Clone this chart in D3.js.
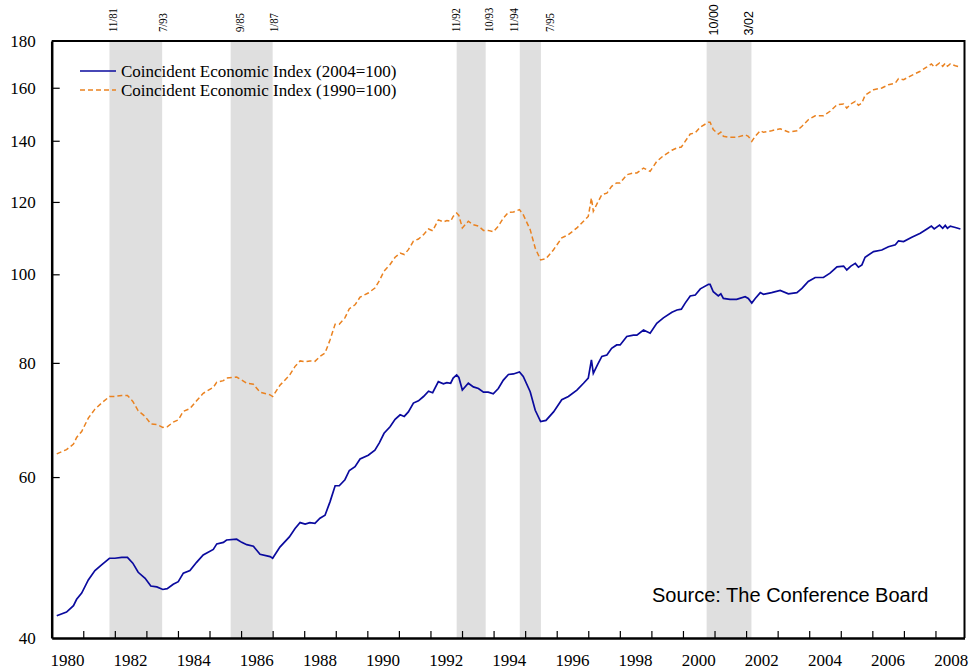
<!DOCTYPE html>
<html>
<head>
<meta charset="utf-8">
<script src="https://cdn.jsdelivr.net/npm/d3@7"></script>
<style>
  body { margin: 0; background: #fff; }
  svg { display: block; }
</style>
</head>
<body>
<div id="chart"></div>
<script>
// decimal years of the sampled points
var dates = [1980.16, 1980.47, 1980.69, 1980.79, 1980.95, 1981.16, 1981.37, 1981.58, 1981.83, 1982.00,
  1982.22, 1982.40, 1982.57, 1982.74, 1982.96, 1983.14, 1983.33, 1983.52, 1983.66, 1983.85,
  1984.01, 1984.17, 1984.38, 1984.59, 1984.80, 1985.12, 1985.23, 1985.44, 1985.54, 1985.86,
  1986.02, 1986.18, 1986.39, 1986.60, 1986.92, 1987.00, 1987.23, 1987.53, 1987.71, 1987.87,
  1988.03, 1988.18, 1988.34, 1988.50, 1988.66, 1988.82, 1988.98, 1989.11, 1989.29, 1989.43,
  1989.61, 1989.77, 1990.03, 1990.24, 1990.38, 1990.53, 1990.72, 1990.88, 1991.04, 1991.17,
  1991.30, 1991.46, 1991.62, 1991.78, 1991.94, 1992.07, 1992.25, 1992.41, 1992.52, 1992.64,
  1992.72, 1992.83, 1992.90, 1993.01, 1993.20, 1993.36, 1993.52, 1993.68, 1993.83, 1993.99,
  1994.15, 1994.31, 1994.47, 1994.63, 1994.82, 1994.94, 1995.16, 1995.32, 1995.49, 1995.66,
  1995.90, 1996.16, 1996.37, 1996.64, 1996.85, 1997.00, 1997.10, 1997.16, 1997.29, 1997.43,
  1997.59, 1997.74, 1997.90, 1998.01, 1998.22, 1998.43, 1998.54, 1998.75, 1998.96, 1999.17,
  1999.38, 1999.65, 1999.81, 1999.95, 2000.07, 2000.23, 2000.39, 2000.55, 2000.81, 2000.86,
  2000.96, 2001.12, 2001.20, 2001.28, 2001.49, 2001.70, 2001.97, 2002.07, 2002.18, 2002.29,
  2002.45, 2002.55, 2002.81, 2003.08, 2003.34, 2003.61, 2003.77, 2003.97, 2004.19, 2004.45,
  2004.66, 2004.88, 2005.09, 2005.19, 2005.32, 2005.46, 2005.56, 2005.67, 2005.77, 2006.04,
  2006.30, 2006.51, 2006.73, 2006.83, 2006.99, 2007.25, 2007.52, 2007.73, 2007.87, 2007.96,
  2008.13, 2008.23, 2008.31, 2008.38, 2008.47, 2008.63, 2008.79];

// Coincident Economic Index (2004=100)
var ci2004 = [42.3, 42.7, 43.4, 44.1, 44.8, 46.3, 47.4, 48.1, 48.9, 48.9,
  49.0, 49.0, 48.3, 47.2, 46.5, 45.6, 45.5, 45.2, 45.3, 45.8,
  46.1, 47.1, 47.4, 48.4, 49.3, 50.0, 50.7, 50.9, 51.2, 51.3,
  50.9, 50.6, 50.4, 49.4, 49.1, 48.9, 50.3, 51.6, 52.7, 53.5,
  53.3, 53.5, 53.4, 54.1, 54.5, 56.4, 58.7, 58.7, 59.6, 61.0,
  61.6, 62.8, 63.4, 64.2, 65.4, 67.0, 68.1, 69.4, 70.2, 69.9,
  70.7, 72.3, 72.7, 73.5, 74.5, 74.2, 76.3, 75.9, 76.1, 76.0,
  77.0, 77.6, 77.1, 74.7, 76.0, 75.3, 75.0, 74.3, 74.3, 74.0,
  75.0, 76.6, 77.7, 77.8, 78.2, 77.3, 74.4, 71.0, 69.0, 69.2,
  70.7, 72.9, 73.5, 74.7, 76.0, 77.0, 80.6, 77.9, 79.6, 81.3,
  81.6, 83.0, 83.7, 83.7, 85.5, 85.8, 85.8, 86.9, 86.2, 88.4,
  89.6, 90.9, 91.4, 91.6, 93.0, 94.7, 94.9, 96.4, 97.5, 97.5,
  95.7, 94.7, 95.2, 94.1, 93.9, 93.9, 94.5, 94.1, 93.0, 94.1,
  95.5, 95.1, 95.5, 96.0, 95.2, 95.5, 96.5, 98.2, 99.2, 99.2,
  100.3, 101.9, 102.1, 101.1, 102.1, 102.8, 101.8, 102.4, 104.4, 105.9,
  106.3, 107.2, 107.7, 108.8, 108.6, 109.8, 110.9, 112.1, 112.9, 112.1,
  113.2, 112.3, 113.1, 112.3, 112.9, 112.5, 112.1];

// Coincident Economic Index (1990=100)
var ci1990 = [63.6, 64.3, 65.2, 66.3, 67.3, 69.6, 71.2, 72.3, 73.5, 73.5,
  73.7, 73.7, 72.6, 70.9, 69.9, 68.6, 68.5, 68.0, 68.1, 68.9,
  69.3, 70.8, 71.3, 72.7, 74.1, 75.2, 76.2, 76.5, 77.0, 77.2,
  76.6, 76.0, 75.8, 74.3, 73.8, 73.5, 75.6, 77.5, 79.3, 80.4,
  80.2, 80.4, 80.3, 81.3, 82.0, 84.8, 88.2, 88.2, 89.6, 91.7,
  92.6, 94.4, 95.4, 96.6, 98.4, 100.8, 102.5, 104.4, 105.5, 105.1,
  106.4, 108.7, 109.3, 110.5, 112.1, 111.6, 114.7, 114.1, 114.5, 114.3,
  115.7, 116.7, 116.0, 112.4, 114.3, 113.3, 112.9, 111.7, 111.7, 111.3,
  112.9, 115.2, 116.9, 117.0, 117.7, 116.2, 111.9, 106.8, 103.7, 104.0,
  106.4, 109.6, 110.5, 112.4, 114.3, 115.7, 121.2, 117.2, 119.7, 122.2,
  122.7, 124.8, 125.9, 125.9, 128.5, 129.1, 129.1, 130.7, 129.6, 132.9,
  134.8, 136.7, 137.5, 137.8, 139.8, 142.4, 142.8, 144.9, 146.7, 146.7,
  144.0, 142.4, 143.1, 141.6, 141.2, 141.2, 142.1, 141.6, 139.8, 141.6,
  143.6, 143.0, 143.6, 144.3, 143.1, 143.6, 145.2, 147.6, 149.1, 149.1,
  150.8, 153.3, 153.6, 152.0, 153.6, 154.6, 153.1, 154.0, 157.0, 159.2,
  159.9, 161.2, 161.9, 163.7, 163.3, 165.1, 166.8, 168.6, 169.9, 168.6,
  170.3, 168.9, 170.2, 168.9, 169.9, 169.1, 168.6];

// recession bands (decimal years) and their labels
var recessionStart = [1981.83, 1985.67, 1992.83, 1994.83, 2000.75];
var recessionEnd = [1983.50, 1987.00, 1993.75, 1995.50, 2002.17];
var recessionStartLabels = ["11/81", "9/85", "11/92", "11/94", "10/00"];
var recessionEndLabels = ["7/93", "1/87", "10/93", "7/95", "3/02"];

var yTicks = [40, 60, 80, 100, 120, 140, 160, 180];
var xLabelYears = [1980, 1982, 1984, 1986, 1988, 1990, 1992, 1994, 1996, 1998, 2000, 2002, 2004, 2006, 2008];

var seriesNames = ["Coincident Economic Index (2004=100)", "Coincident Economic Index (1990=100)"];

drawChart();

function drawChart() {
  var w = 971, h = 672;
  var plotLeft = 51.7, plotRight = 964.5, plotTop = 41, plotBottom = 638;
  var serif = "'Liberation Serif', 'Times New Roman', serif";
  var sans = "'Liberation Sans', Arial, sans-serif";

  var svg = d3.select("#chart").append("svg")
    .attr("width", w)
    .attr("height", h)
    .style("background", "#fff");

  var x = d3.scaleLinear().domain([1980, 2008.92]).range([plotLeft, plotRight]);
  var y = d3.scaleLog().domain([40, 180]).range([plotBottom, plotTop]);

  // shaded recessions
  svg.append("g").selectAll("rect")
    .data(recessionStart)
    .enter()
    .append("rect")
    .attr("x", d => x(d))
    .attr("y", plotTop)
    .attr("width", (d, i) => x(recessionEnd[i]) - x(d))
    .attr("height", plotBottom - plotTop)
    .attr("fill", "#dfdfdf");

  // labels above the frame, nudged a little like the original (narrow, tall type)
  var startNudge = [3, 9, -1, -6, 7];
  var endNudge = [0, 1, 3, 9, -3];
  var labelGroup = svg.append("g");
  recessionStart.forEach(function(d, i) {
    var isSans = i == 4;
    [[d, recessionStartLabels[i], startNudge[i]], [recessionEnd[i], recessionEndLabels[i], endNudge[i]]].forEach(function(l) {
      labelGroup.append("text")
        .attr("transform", "translate(" + (x(l[0]) + l[2]) + "," + (isSans ? 35.5 : 32) + ") rotate(-90)" + (isSans ? "" : " scale(0.82,1)"))
        .attr("dy", "0.35em")
        .attr("font-family", isSans ? sans : serif)
        .attr("font-size", isSans ? "12.5px" : "13px")
        .attr("fill", "#000")
        .text(l[1]);
    });
  });

  // lines
  var line = d3.line()
    .x((d, i) => x(dates[i]))
    .y(d => y(d));

  svg.append("path")
    .datum(ci1990)
    .attr("d", line)
    .attr("fill", "none")
    .attr("stroke", "#ea8220")
    .attr("stroke-width", 1.5)
    .attr("stroke-dasharray", "5,3");

  svg.append("path")
    .datum(ci2004)
    .attr("d", line)
    .attr("fill", "none")
    .attr("stroke", "#0a0a9e")
    .attr("stroke-width", 1.7);

  // y axis: ticks point inward
  var yAxis = svg.append("g")
    .attr("transform", "translate(" + plotLeft + ",0)")
    .call(d3.axisLeft(y).tickValues(yTicks).tickFormat(d3.format("d")).tickSizeInner(-8).tickSizeOuter(0).tickPadding(16));
  yAxis.select(".domain").attr("stroke", "#000").attr("stroke-width", 2.5);
  yAxis.selectAll(".tick line").attr("stroke", "#000").attr("stroke-width", 1.2)
    .attr("display", d => (d == 40 || d == 180) ? "none" : null);
  yAxis.selectAll("text").attr("font-family", serif).attr("font-size", "17px").attr("fill", "#000");

  // x axis: ticks at each January, labels in the middle of every second year
  var xTicks = d3.range(1981, 2009);
  var xAxis = svg.append("g")
    .attr("transform", "translate(0," + plotBottom + ")")
    .call(d3.axisBottom(x).tickValues(xTicks).tickFormat("").tickSizeInner(-7).tickSizeOuter(0));
  xAxis.select(".domain").attr("stroke", "#000").attr("stroke-width", 2.5);
  xAxis.selectAll(".tick line").attr("stroke", "#000").attr("stroke-width", 1.2);

  svg.append("g").selectAll("text")
    .data(xLabelYears)
    .enter()
    .append("text")
    .attr("x", d => x(d + 0.5))
    .attr("y", 666)
    .attr("text-anchor", "middle")
    .attr("font-family", serif)
    .attr("font-size", "17px")
    .attr("fill", "#000")
    .text(d => d);

  // top and right frame
  svg.append("path")
    .attr("d", "M" + plotLeft + "," + plotTop + "H" + plotRight + "V" + plotBottom)
    .attr("fill", "none")
    .attr("stroke", "#000")
    .attr("stroke-width", 2);

  // legend
  var legend = svg.append("g");
  var legendColors = ["#0a0a9e", "#ea8220"];
  seriesNames.forEach(function(name, i) {
    legend.append("line")
      .attr("x1", 80).attr("x2", 116)
      .attr("y1", 71 + i * 19).attr("y2", 71 + i * 19)
      .attr("stroke", legendColors[i])
      .attr("stroke-width", 1.5)
      .attr("stroke-dasharray", i == 1 ? "5,3" : null);
    legend.append("text")
      .attr("x", 121)
      .attr("y", 77 + i * 19)
      .attr("font-family", serif)
      .attr("font-size", "17px")
      .attr("fill", "#000")
      .text(name);
  });

  svg.append("text")
    .attr("x", 652)
    .attr("y", 602)
    .attr("font-family", sans)
    .attr("font-size", "20px")
    .attr("fill", "#000")
    .text("Source: The Conference Board");
}
</script>
</body>
</html>
